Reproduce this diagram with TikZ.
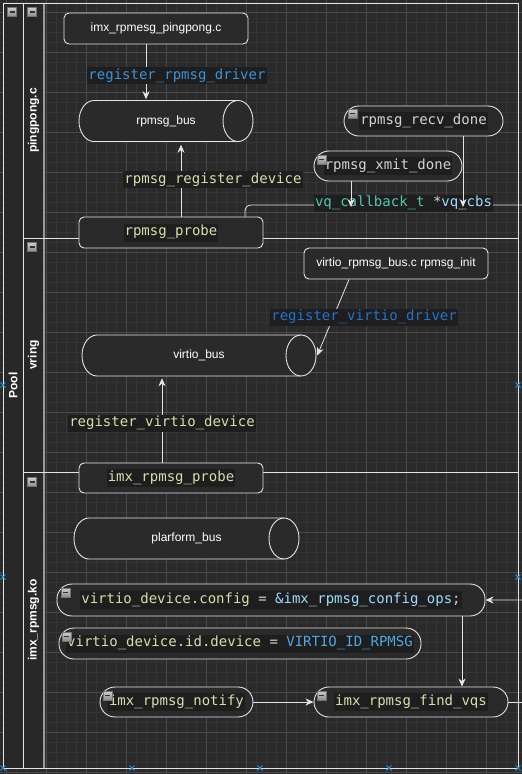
\documentclass[tikz,border=0pt]{standalone}
\usepackage{fontspec}
\setmainfont{Liberation Sans}
\setmonofont{DejaVu Sans Mono}
\usetikzlibrary{positioning, arrows.meta}
\definecolor{dgCanvas}{HTML}{2A2A2A}
\definecolor{dgGridMinor}{HTML}{353535}
\definecolor{dgGridMajor}{HTML}{4A4A4A}
\definecolor{dgHead}{HTML}{282828}
\definecolor{dgLine}{HTML}{E4E4E4}
\definecolor{dgSep}{HTML}{9A9A9A}
\definecolor{dgCode}{HTML}{1E1E1E}
\definecolor{vsFunc}{HTML}{DCDCAA}
\definecolor{vsText}{HTML}{D4D4D4}
\definecolor{vsVar}{HTML}{9CDCFE}
\definecolor{vsType}{HTML}{4EC9B0}
\definecolor{vsBlue}{HTML}{3B93DA}
\definecolor{vsDeep}{HTML}{2474CC}
\definecolor{vsConst}{HTML}{4FA8E8}
\definecolor{dgHandle}{HTML}{1E9BE0}
\newcommand{\codebg}[1]{{\setlength{\fboxsep}{1pt}\colorbox{dgCode}{\strut #1}}}
\tikzset{
  box/.style={
    rectangle, rounded corners=5pt,
    draw=dgLine, line width=0.9pt,
    fill=dgCanvas, text=white,
    inner sep=2pt,
    minimum width=184pt, minimum height=31pt,
    align=center,
    font=\fontsize{12}{14}\selectfont
  },
  codebox/.style={
    box, text=vsFunc,
    font=\fontsize{14}{16}\selectfont\ttfamily
  },
  pill/.style={
    rectangle, rounded corners=15pt,
    draw=dgLine, line width=0.9pt,
    fill=dgCanvas, text=vsText,
    inner sep=2pt, minimum height=30pt,
    font=\fontsize{14}{16}\selectfont\ttfamily
  },
  bus/.style={
    rectangle, inner sep=2pt, minimum height=43pt,
    text=white, font=\fontsize{12}{14}\selectfont,
    path picture={
      \filldraw[dgLine, fill=dgCanvas, line width=0.9pt]
        ([xshift=16pt, yshift=-1pt]path picture bounding box.north west)
          arc[start angle=90, end angle=270, x radius=15pt, y radius=20.5pt]
        -- ([xshift=-16pt, yshift=1pt]path picture bounding box.south east)
          arc[start angle=-90, end angle=90, x radius=15pt, y radius=20.5pt]
        -- cycle;
      \draw[dgLine, line width=0.9pt]
        ([xshift=-16pt, yshift=-1pt]path picture bounding box.north east)
          arc[start angle=90, end angle=270, x radius=15pt, y radius=20.5pt];
    }
  },
  elabel/.style={
    fill=dgCode, inner sep=1pt,
    text height=11pt, text depth=4pt,
    font=\fontsize{14}{16}\selectfont\ttfamily
  },
  arrow/.style={
    -{Stealth[length=8pt, width=7pt, inset=2.5pt]},
    dgLine, line width=0.8pt
  },
  line/.style={dgLine, line width=0.8pt},
  gridminor/.style={dgGridMinor, line width=0.6pt},
  gridmajor/.style={dgGridMajor, line width=0.8pt},
  frame/.style={dgLine, line width=1pt},
  lanetitle/.style={rotate=90, text=white, font=\fontsize{12}{14}\selectfont\bfseries},
  foldbox/.style={
    rectangle, minimum size=9pt, inner sep=0pt,
    draw=black!55, line width=0.4pt,
    top color=black!20, bottom color=black!45,
    path picture={\draw[black!80, line width=1.4pt]
      ([xshift=2pt]path picture bounding box.west) -- ([xshift=-2pt]path picture bounding box.east);}
  },
  handle/.style={dgHandle, line width=1pt}
}
\begin{document}
\begin{tikzpicture}[x=1pt, y=-1pt]
  \useasboundingbox (0,0) rectangle (522,774);
  \fill[dgCanvas] (0,0) rectangle (522,774);
  % grid
  \foreach \gx in {6,16,...,516} \draw[gridminor] (\gx,0) -- (\gx,774);
  \foreach \gy in {2,12,...,772} \draw[gridminor] (0,\gy) -- (522,\gy);
  \foreach \gx in {6,46,...,486} \draw[gridmajor] (\gx,0) -- (\gx,774);
  \foreach \gy in {12,52,...,772} \draw[gridmajor] (0,\gy) -- (522,\gy);

  % pool and lanes
  \fill[dgHead] (3,3) rectangle (44,768);
  \draw[dgSep, line width=1.4pt] (44,3) -- (44,768);
  \draw[frame] (3,3) rectangle (518,768);
  \draw[frame] (23,3) -- (23,768);
  \draw[frame] (23,238) -- (518,238);
  \draw[frame] (23,472) -- (518,472);
  \node[lanetitle] (pooltitle) at (13,385.5) {Pool};
  \node[lanetitle] (pingtitle) at (33.5,120.5) {pingpong.c};
  \node[lanetitle] (vringtitle) at (33.5,355) {vring};
  \node[lanetitle] (kotitle) at (33.5,620) {imx\_rpmsg.ko};
  \node[foldbox] (foldpool) at (12,12) {};
  \node[foldbox] (foldping) at (32,12) {};
  \node[foldbox] (foldvring) at (32,247) {};
  \node[foldbox] (foldko) at (32,482) {};

  % pingpong.c
  \node[box] (pingc) at (156,28.5) {imx\_rpmesg\_pingpong.c};
  \node[bus, minimum width=176pt] (rbus) at (166,121) {rpmsg\_bus};
  \node[codebox] (rprobe) at (171,232.5) {\codebg{rpmsg\_probe}};
  \node[pill, minimum width=159pt] (recv) at (423.5,121) {\codebg{rpmsg\_recv\_done}};
  \node[pill, minimum width=148pt] (xmit) at (388,166) {\codebg{rpmsg\_xmit\_done}};
  \node[foldbox] (foldrecv) at ([xshift=9pt, yshift=-8pt]recv.north west) {};
  \node[foldbox] (foldxmit) at ([xshift=8pt, yshift=-9pt]xmit.north west) {};

  % vring
  \node[box] (vinit) at (396,263.5) {virtio\_rpmsg\_bus.c rpmsg\_init};
  \node[bus, minimum width=236pt] (vbus) at (199,355.5) {virtio\_bus};
  \node[codebox, minimum height=30pt] (iprobe) at (171,478) {\codebg{imx\_rpmsg\_probe}};

  % imx_rpmsg.ko
  \node[bus, minimum width=227pt] (pbus) at (186.5,538.5) {plarform\_bus};
  \node[pill, minimum width=428pt, minimum height=32pt] (cfg) at (271,600)
    {\codebg{\textcolor{vsFunc}{virtio\_device.config} = \textcolor{vsVar}{\&imx\_rpmsg\_config\_ops};}};
  \node[pill, minimum width=362pt, minimum height=31pt] (devid) at (240,643.5)
    {\codebg{\textcolor{vsFunc}{virtio\_device.id.device} = \textcolor{vsConst}{VIRTIO\_ID\_RPMSG}}};
  \node[pill, minimum width=153pt, text=vsFunc] (notify) at (176.5,702) {\codebg{imx\_rpmsg\_notify}};
  \node[pill, minimum width=194pt, text=vsFunc] (fvqs) at (411,702) {\codebg{imx\_rpmsg\_find\_vqs}};
  \node[foldbox] (foldcfg) at ([xshift=9pt, yshift=-9pt]cfg.north west) {};
  \node[foldbox] (folddevid) at ([xshift=8pt, yshift=-9pt]devid.north west) {};
  \node[foldbox] (foldnotify) at ([xshift=8pt, yshift=-9pt]notify.north west) {};
  \node[foldbox] (foldfvqs) at ([xshift=8pt, yshift=-9pt]fvqs.north west) {};

  % connectors
  \coordinate (vqtop) at (540,205);
  \coordinate (vqline) at (0,207);
  \coordinate (vqsout) at (540,702);
  \draw[arrow] ([xshift=-10pt]pingc.south) -- ([xshift=-20pt]rbus.north)
    node[elabel, pos=0.57, xshift=31pt, text=vsBlue] {register\_rpmsg\_driver};
  \draw[arrow, shorten >=2pt] ([xshift=10pt]rprobe.north) -- ([xshift=15pt]rbus.south)
    node[elabel, pos=0.5, xshift=32pt, text=vsFunc] {rpmsg\_register\_device};
  \draw[arrow, rounded corners=6pt] ([xshift=74pt]rprobe.north) |- (vqtop) |- (cfg.east);
  \node[elabel] (vqcbs) at (403.5,203)
    {\textcolor{vsType}{vq\_callback\_t} \textcolor{vsText}{*}\textcolor{vsVar}{vq\_cbs}};
  \draw[arrow] ([xshift=-37pt]xmit.south) -- ([xshift=-37pt]xmit.south |- vqline);
  \draw[arrow] ([xshift=39.5pt]recv.south) -- ([xshift=39.5pt]recv.south |- vqline);
  \draw[arrow] ([xshift=-47pt]vinit.south) -- (vbus.east)
    node[elabel, pos=0.5, xshift=31pt, text=vsDeep] {register\_virtio\_driver};
  \draw[arrow, shorten >=1pt] ([xshift=-9pt]iprobe.north) -- ([xshift=-37pt]vbus.south)
    node[elabel, pos=0.46, text=vsFunc] {register\_virtio\_device};
  \draw[arrow] ([xshift=191pt]cfg.south) -- ([xshift=51pt]fvqs.north);
  \draw[arrow] (notify.east) -- (fvqs.west);
  \draw[line] (fvqs.east) -- (vqsout);

  % selection handles
  \foreach \mx/\my in {3/385,518/385,3/577,518/577,3/768,132/768,260/768,389/768,518/768}
    \draw[handle] (\mx,\my) ++(-2.5,-2.5) -- ++(5,5) ++(-5,0) -- ++(5,-5);
\end{tikzpicture}
\end{document}
